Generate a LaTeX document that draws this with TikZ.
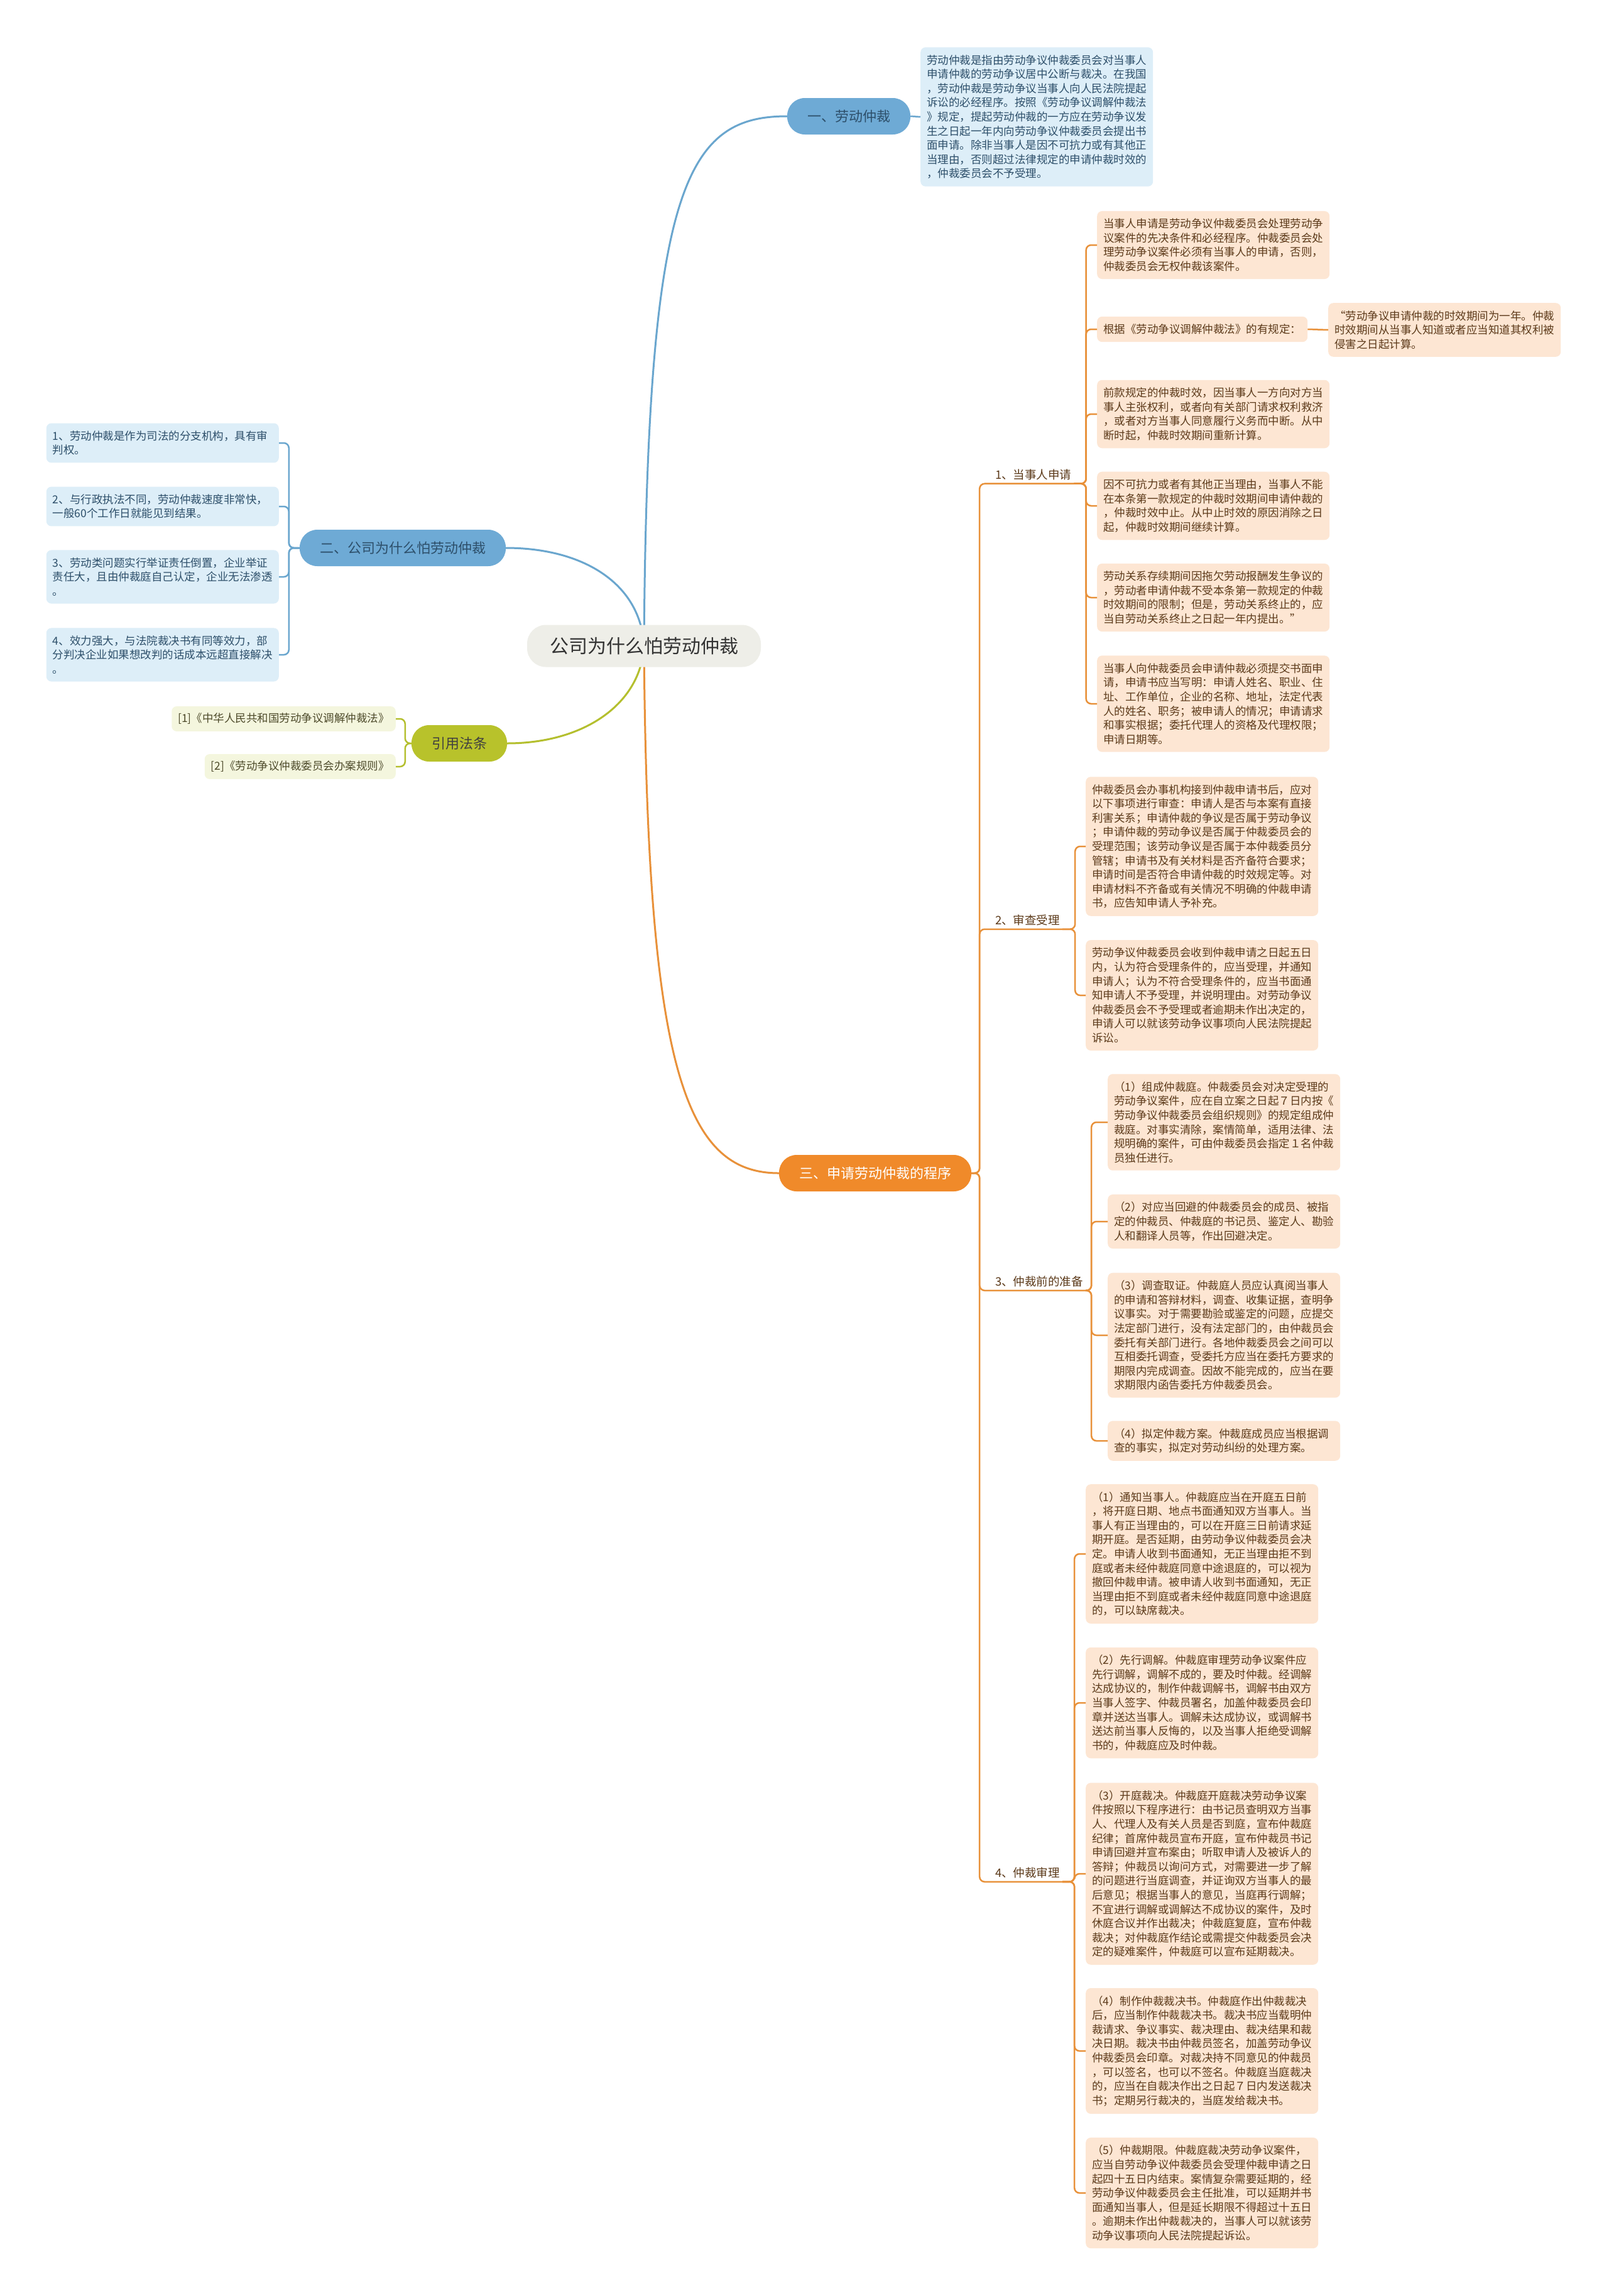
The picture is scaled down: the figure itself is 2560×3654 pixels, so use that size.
\documentclass[tikz,border=0pt]{standalone}
\usepackage{fontspec}
\setmainfont{Noto Sans CJK SC}
\usetikzlibrary{backgrounds}
\definecolor{blueln}{HTML}{6AA6CE}
\definecolor{bluenode}{HTML}{6EAAD5}
\definecolor{bluebg}{HTML}{DDEEF8}
\definecolor{bluetxt}{HTML}{2D4F6A}
\definecolor{orln}{HTML}{E8913A}
\definecolor{ornode}{HTML}{F08A2A}
\definecolor{orbg}{HTML}{FDE6D3}
\definecolor{ortxt}{HTML}{5C3A1A}
\definecolor{olvln}{HTML}{B4BF2E}
\definecolor{olvnode}{HTML}{B8C22B}
\definecolor{lawbg}{HTML}{F4F6DE}
\definecolor{lawtxt}{HTML}{4D4A2A}
\definecolor{ctrbg}{HTML}{EEEEE8}
\begin{document}
\begin{tikzpicture}[x=1pt,y=-1pt,
  txt/.style={font=\fontsize{17.5}{22.6}\selectfont,align=left,inner xsep=10pt,inner ysep=12pt,rounded corners=8pt},
  wide/.style={text width=350pt},
  bluebox/.style={txt,fill=bluebg,text=bluetxt},
  orbox/.style={txt,fill=orbg,text=ortxt,anchor=west},
  lawbox/.style={txt,fill=lawbg,text=lawtxt,inner ysep=11pt,anchor=east},
  branch/.style={font=\fontsize{22}{26}\selectfont,minimum height=58pt,inner xsep=32pt,rounded corners=28pt},
  sub/.style={font=\fontsize{18.5}{22}\selectfont,text=ortxt,inner xsep=4pt,inner ysep=6pt,anchor=west},
  bl/.style={draw=blueln,line width=2.5pt},
  ol/.style={draw=orln,line width=2.5pt},
  gl/.style={draw=olvln,line width=2.5pt},
  kid/.style={rounded corners=8pt}
]
\useasboundingbox (0,0) rectangle (2560,3654);

\node[fill=ctrbg,text=black!80,font=\fontsize{30}{36}\selectfont,minimum width=372pt,minimum height=67pt,rounded corners=30pt] (ctr) at (1025,1028) {公司为什么怕劳动仲裁};

\node[branch,fill=bluenode,text=bluetxt] (b1) at (1351,185) {一、劳动仲裁};
\node[branch,fill=bluenode,text=bluetxt] (b2) at (641,872) {二、公司为什么怕劳动仲裁};
\node[branch,fill=ornode,text=white] (b3) at (1393,1867) {三、申请劳动仲裁的程序};
\node[branch,fill=olvnode,text=black!75] (b4) at (731,1183) {引用法条};

\node[bluebox,wide,anchor=west] (def) at (1465,186) {劳动仲裁是指由劳动争议仲裁委员会对当事人\\
申请仲裁的劳动争议居中公断与裁决。在我国\\
，劳动仲裁是劳动争议当事人向人民法院提起\\
诉讼的必经程序。按照《劳动争议调解仲裁法\\
》规定，提起劳动仲裁的一方应在劳动争议发\\
生之日起一年内向劳动争议仲裁委员会提出书\\
面申请。除非当事人是因不可抗力或有其他正\\
当理由，否则超过法律规定的申请仲裁时效的\\
，仲裁委员会不予受理。};

\node[bluebox,wide,anchor=east] (w1) at (444,705) {1、劳动仲裁是作为司法的分支机构，具有审\\
判权。};
\node[bluebox,wide,anchor=east] (w2) at (444,806) {2、与行政执法不同，劳动仲裁速度非常快，\\
一般60个工作日就能见到结果。};
\node[bluebox,wide,anchor=east] (w3) at (444,918) {3、劳动类问题实行举证责任倒置，企业举证\\
责任大，且由仲裁庭自己认定，企业无法渗透\\
。};
\node[bluebox,wide,anchor=east] (w4) at (444,1042) {4、效力强大，与法院裁决书有同等效力，部\\
分判决企业如果想改判的话成本远超直接解决\\
。};

\node[lawbox] (law1) at (630,1144) {[1]《中华人民共和国劳动争议调解仲裁法》};
\node[lawbox] (law2) at (630,1220) {[2]《劳动争议仲裁委员会办案规则》};

\node[sub] (s1) at (1580,755) {1、当事人申请};
\node[sub] (s2) at (1580,1464) {2、审查受理};
\node[sub] (s3) at (1580,2039) {3、仲裁前的准备};
\node[sub] (s4) at (1580,2980) {4、仲裁审理};

\node[orbox,wide] (a1) at (1746,390) {当事人申请是劳动争议仲裁委员会处理劳动争\\
议案件的先决条件和必经程序。仲裁委员会处\\
理劳动争议案件必须有当事人的申请，否则，\\
仲裁委员会无权仲裁该案件。};
\node[orbox] (a2) at (1746,524) {根据《劳动争议调解仲裁法》的有规定：};
\node[orbox,wide] (a2x) at (2114,525) {“劳动争议申请仲裁的时效期间为一年。仲裁\\
时效期间从当事人知道或者应当知道其权利被\\
侵害之日起计算。};
\node[orbox,wide] (a3) at (1746,659) {前款规定的仲裁时效，因当事人一方向对方当\\
事人主张权利，或者向有关部门请求权利救济\\
，或者对方当事人同意履行义务而中断。从中\\
断时起，仲裁时效期间重新计算。};
\node[orbox,wide] (a4) at (1746,805) {因不可抗力或者有其他正当理由，当事人不能\\
在本条第一款规定的仲裁时效期间申请仲裁的\\
，仲裁时效中止。从中止时效的原因消除之日\\
起，仲裁时效期间继续计算。};
\node[orbox,wide] (a5) at (1746,951) {劳动关系存续期间因拖欠劳动报酬发生争议的\\
，劳动者申请仲裁不受本条第一款规定的仲裁\\
时效期间的限制；但是，劳动关系终止的，应\\
当自劳动关系终止之日起一年内提出。”};
\node[orbox,wide] (a6) at (1746,1120) {当事人向仲裁委员会申请仲裁必须提交书面申\\
请，申请书应当写明：申请人姓名、职业、住\\
址、工作单位，企业的名称、地址，法定代表\\
人的姓名、职务；被申请人的情况；申请请求\\
和事实根据；委托代理人的资格及代理权限；\\
申请日期等。};

\node[orbox,wide] (r1) at (1728,1347) {仲裁委员会办事机构接到仲裁申请书后，应对\\
以下事项进行审查：申请人是否与本案有直接\\
利害关系；申请仲裁的争议是否属于劳动争议\\
；申请仲裁的劳动争议是否属于仲裁委员会的\\
受理范围；该劳动争议是否属于本仲裁委员分\\
管辖；申请书及有关材料是否齐备符合要求；\\
申请时间是否符合申请仲裁的时效规定等。对\\
申请材料不齐备或有关情况不明确的仲裁申请\\
书，应告知申请人予补充。};
\node[orbox,wide] (r2) at (1728,1584) {劳动争议仲裁委员会收到仲裁申请之日起五日\\
内，认为符合受理条件的，应当受理，并通知\\
申请人；认为不符合受理条件的，应当书面通\\
知申请人不予受理，并说明理由。对劳动争议\\
仲裁委员会不予受理或者逾期未作出决定的，\\
申请人可以就该劳动争议事项向人民法院提起\\
诉讼。};

\node[orbox,wide] (p1) at (1763,1786) {（1）组成仲裁庭。仲裁委员会对决定受理的\\
劳动争议案件，应在自立案之日起７日内按《\\
劳动争议仲裁委员会组织规则》的规定组成仲\\
裁庭。对事实清除，案情简单，适用法律、法\\
规明确的案件，可由仲裁委员会指定１名仲裁\\
员独任进行。};
\node[orbox,wide] (p2) at (1763,1944) {（2）对应当回避的仲裁委员会的成员、被指\\
定的仲裁员、仲裁庭的书记员、鉴定人、勘验\\
人和翻译人员等，作出回避决定。};
\node[orbox,wide] (p3) at (1763,2125) {（3）调查取证。仲裁庭人员应认真阅当事人\\
的申请和答辩材料，调查、收集证据，查明争\\
议事实。对于需要勘验或鉴定的问题，应提交\\
法定部门进行，没有法定部门的，由仲裁员会\\
委托有关部门进行。各地仲裁委员会之间可以\\
互相委托调查，受委托方应当在委托方要求的\\
期限内完成调查。因故不能完成的，应当在要\\
求期限内函告委托方仲裁委员会。};
\node[orbox,wide] (p4) at (1763,2293) {（4）拟定仲裁方案。仲裁庭成员应当根据调\\
查的事实，拟定对劳动纠纷的处理方案。};

\node[orbox,wide] (h1) at (1728,2473) {（1）通知当事人。仲裁庭应当在开庭五日前\\
，将开庭日期、地点书面通知双方当事人。当\\
事人有正当理由的，可以在开庭三日前请求延\\
期开庭。是否延期，由劳动争议仲裁委员会决\\
定。申请人收到书面通知，无正当理由拒不到\\
庭或者未经仲裁庭同意中途退庭的，可以视为\\
撤回仲裁申请。被申请人收到书面通知，无正\\
当理由拒不到庭或者未经仲裁庭同意中途退庭\\
的，可以缺席裁决。};
\node[orbox,wide] (h2) at (1728,2710) {（2）先行调解。仲裁庭审理劳动争议案件应\\
先行调解，调解不成的，要及时仲裁。经调解\\
达成协议的，制作仲裁调解书，调解书由双方\\
当事人签字、仲裁员署名，加盖仲裁委员会印\\
章并送达当事人。调解未达成协议，或调解书\\
送达前当事人反悔的，以及当事人拒绝受调解\\
书的，仲裁庭应及时仲裁。};
\node[orbox,wide] (h3) at (1728,2982) {（3）开庭裁决。仲裁庭开庭裁决劳动争议案\\
件按照以下程序进行：由书记员查明双方当事\\
人、代理人及有关人员是否到庭，宣布仲裁庭\\
纪律；首席仲裁员宣布开庭，宣布仲裁员书记\\
申请回避并宣布案由；听取申请人及被诉人的\\
答辩；仲裁员以询问方式，对需要进一步了解\\
的问题进行当庭调查，并证询双方当事人的最\\
后意见；根据当事人的意见，当庭再行调解；\\
不宜进行调解或调解达不成协议的案件，及时\\
休庭合议并作出裁决；仲裁庭复庭，宣布仲裁\\
裁决；对仲裁庭作结论或需提交仲裁委员会决\\
定的疑难案件，仲裁庭可以宣布延期裁决。};
\node[orbox,wide] (h4) at (1728,3264) {（4）制作仲裁裁决书。仲裁庭作出仲裁裁决\\
后，应当制作仲裁裁决书。裁决书应当载明仲\\
裁请求、争议事实、裁决理由、裁决结果和裁\\
决日期。裁决书由仲裁员签名，加盖劳动争议\\
仲裁委员会印章。对裁决持不同意见的仲裁员\\
，可以签名，也可以不签名。仲裁庭当庭裁决\\
的，应当在自裁决作出之日起７日内发送裁决\\
书；定期另行裁决的，当庭发给裁决书。};
\node[orbox,wide] (h5) at (1728,3490) {（5）仲裁期限。仲裁庭裁决劳动争议案件，\\
应当自劳动争议仲裁委员会受理仲裁申请之日\\
起四十五日内结束。案情复杂需要延期的，经\\
劳动争议仲裁委员会主任批准，可以延期并书\\
面通知当事人，但是延长期限不得超过十五日\\
。逾期未作出仲裁裁决的，当事人可以就该劳\\
动争议事项向人民法院提起诉讼。};

\begin{scope}[on background layer]
\fill[white] (0,0) rectangle (2560,3654);
\draw[bl,line width=3pt] (ctr.center) .. controls (1030,300) and (1090,185) .. (b1.west);
\draw[bl,line width=3pt] (ctr.center) .. controls (1020,930) and (930,872) .. (b2.east);
\draw[gl,line width=3pt] (ctr.center) .. controls (1020,1120) and (930,1183) .. (b4.east);
\draw[ol,line width=3pt] (ctr.center) .. controls (1030,1700) and (1090,1867) .. (b3.west);
\end{scope}

\draw[bl] (b1.east) -- (def.west);
\foreach \k in {w1,w2,w3,w4}
  \draw[bl,kid] (b2.west) -- ++(-17,0) |- (\k.east);
\foreach \k in {law1,law2}
  \draw[gl,kid] (b4.west) -- ++(-10,0) |- (\k.east);
\foreach \k in {s1,s2,s3,s4}
  \draw[ol,kid] (b3.east) -- ++(13,0) |- (\k.south west) -- (\k.south east);
\foreach \k in {a1,a2,a3,a4,a5,a6}
  \draw[ol,kid] (s1.south east) -- ++(19,0) |- (\k.west);
\draw[ol] (a2.east) -- (a2x.west);
\foreach \k in {r1,r2}
  \draw[ol,kid] (s2.south east) -- ++(20,0) |- (\k.west);
\foreach \k in {p1,p2,p3,p4}
  \draw[ol,kid] (s3.south east) -- ++(9,0) |- (\k.west);
\foreach \k in {h1,h2,h3,h4,h5}
  \draw[ol,kid] (s4.south east) -- ++(19,0) |- (\k.west);
\end{tikzpicture}
\end{document}
